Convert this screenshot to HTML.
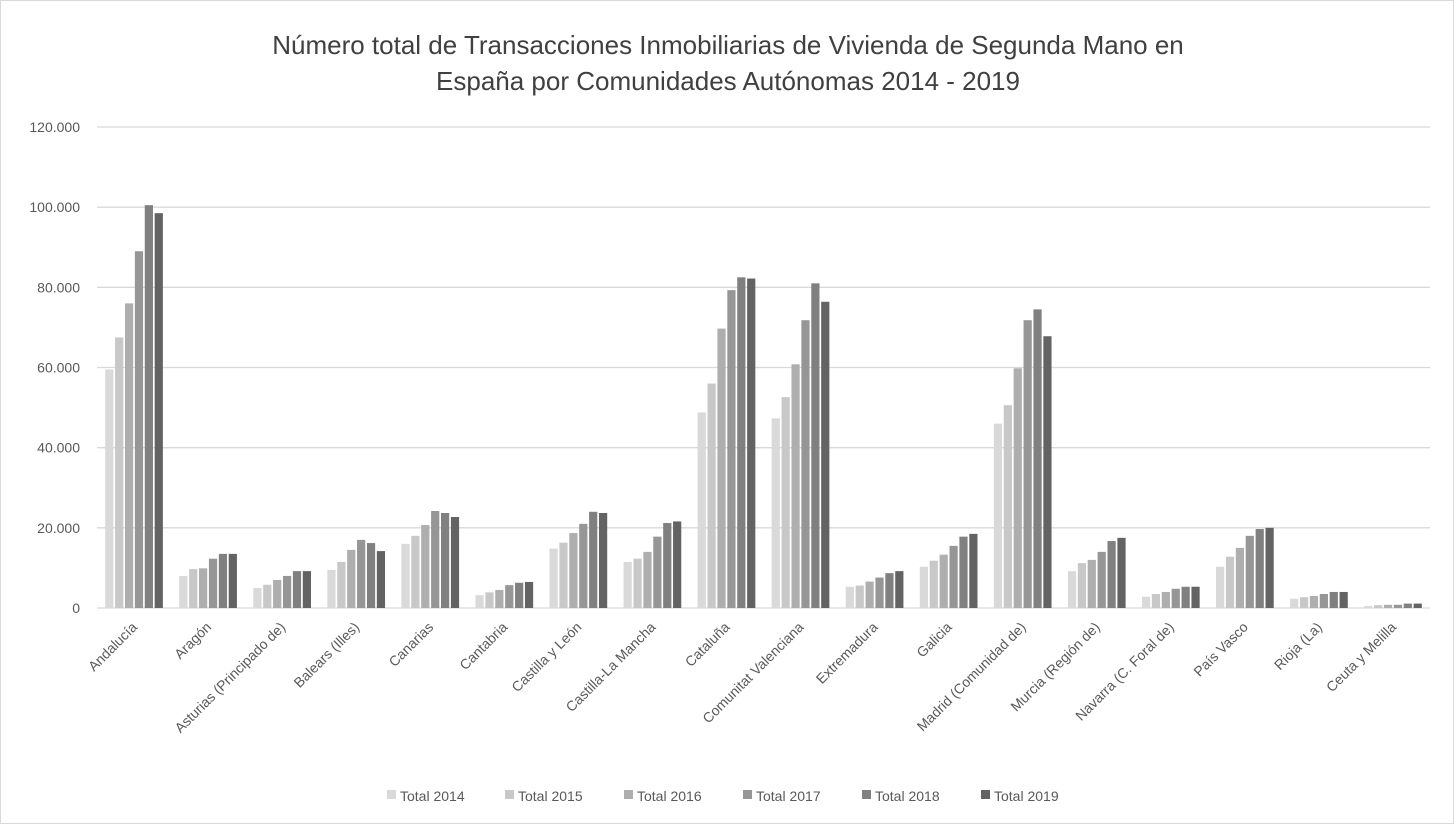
<!DOCTYPE html>
<html><head><meta charset="utf-8"><style>
body{margin:0;background:#fff;font-family:"Liberation Sans","DejaVu Sans",sans-serif;}
svg text{font-family:"Liberation Sans","DejaVu Sans",sans-serif;}
</style></head><body>
<svg id="chart" width="1454" height="824" viewBox="0 0 1454 824">
<rect x="0.5" y="0.5" width="1453" height="823" fill="#fff" stroke="#d9d9d9"/>
<text x="728" y="54" text-anchor="middle" font-size="26" fill="#404040">Número total de Transacciones Inmobiliarias de Vivienda de Segunda Mano en</text>
<text x="728" y="90" text-anchor="middle" font-size="26" fill="#404040">España por Comunidades Autónomas 2014 - 2019</text>
<g id="grid"></g><g id="bars"></g><g id="xl"></g><g id="legend"></g>
</svg>
<script>
const categories=["Andalucía","Aragón","Asturias (Principado de)","Balears (Illes)","Canarias","Cantabria","Castilla y León","Castilla-La Mancha","Cataluña","Comunitat Valenciana","Extremadura","Galicia","Madrid (Comunidad de)","Murcia (Región de)","Navarra (C. Foral de)","País Vasco","Rioja (La)","Ceuta y Melilla"];
const seriesNames=["Total 2014","Total 2015","Total 2016","Total 2017","Total 2018","Total 2019"];
const s2014=[59500,8000,5000,9500,16000,3200,14800,11500,48800,47300,5300,10300,46000,9200,2800,10300,2300,500];
const s2015=[67500,9700,5800,11500,18000,3900,16300,12300,56000,52600,5600,11800,50600,11200,3500,12800,2700,700];
const s2016=[76000,9900,7000,14500,20700,4500,18700,14000,69700,60800,6600,13300,59800,12000,4000,15000,3000,800];
const s2017=[89000,12300,8000,17000,24200,5700,21000,17800,79300,71800,7600,15500,71800,14000,4800,18000,3500,800];
const s2018=[100500,13500,9200,16200,23700,6300,24000,21200,82500,81000,8700,17800,74500,16700,5300,19700,4000,1100];
const s2019=[98500,13500,9200,14200,22700,6500,23700,21600,82200,76400,9200,18500,67800,17500,5300,20000,4000,1100];
const yTicks=[0,20000,40000,60000,80000,100000,120000];
const yTickLabels=["0","20.000","40.000","60.000","80.000","100.000","120.000"];
const series=[s2014,s2015,s2016,s2017,s2018,s2019];
const colors=["#d9d9d9","#c8c8c8","#aeaeae","#969696","#808080","#636363"];
const NS="http://www.w3.org/2000/svg";
const L=97,R=1430,Y0=608,YT=127,maxV=120000;
const y=v=>Y0-(v/maxV)*(Y0-YT);
const cw=(R-L)/categories.length;
const xc=i=>L+cw*(i+0.5);
function mk(t,a,p){const e=document.createElementNS(NS,t);for(const k in a)e.setAttribute(k,a[k]);p.appendChild(e);return e;}
const grid=document.getElementById('grid');
yTicks.forEach((v,i)=>{
 const l=mk('line',{x1:L,x2:R,y1:y(v),y2:y(v),stroke:'#d9d9d9','stroke-width':1.3},grid);
 
 
 const t=mk('text',{x:80,y:y(v)+5,'text-anchor':'end','font-size':14,fill:'#595959'},grid);
 t.textContent=yTickLabels[i];
 
 
});
const bars=document.getElementById('bars');
const bw=8.2,gap=1.7;
series.forEach((s,si)=>{s.forEach((v,i)=>{
 const x=xc(i)-(6*bw+5*gap)/2+si*(bw+gap);
 const r=mk('rect',{x:x,y:y(v),width:bw,height:Y0-y(v),fill:colors[si]},bars);
 
 
});});
const xl=document.getElementById('xl');
categories.forEach((c,i)=>{
 const t=mk('text',{x:xc(i)+4,y:628,'text-anchor':'end','font-size':14,fill:'#595959',transform:`rotate(-45 ${xc(i)+4} 628)`},xl);
 t.textContent=c;
 
 
});
const lg=document.getElementById('legend');
const lx=[387,505,624,743,862,981];
seriesNames.forEach((n,i)=>{
 const g=mk('g',{},lg);
 
 
 mk('rect',{x:lx[i],y:790,width:9,height:9,fill:colors[i]},g);
 const t=mk('text',{x:lx[i]+13,y:801,'font-size':14,fill:'#595959'},g);
 t.textContent=n;
});
</script>
</body></html>
